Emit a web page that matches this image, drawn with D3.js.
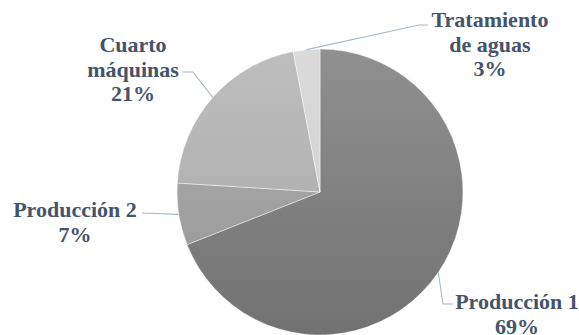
<!DOCTYPE html>
<html>
<head>
<meta charset="utf-8">
<script src="https://cdn.jsdelivr.net/npm/d3@7"></script>
<style>
  html, body { margin: 0; padding: 0; background: #ffffff; }
  svg { display: block; }
  .lbl { font-family: "Liberation Serif", "Times New Roman", "DejaVu Serif", serif; font-weight: bold; font-size: 22px; fill: #44546a; }
</style>
</head>
<body>
<svg id="chart" width="579" height="335"></svg>
<script>
// Consumption share by area (%)
const categories = ["Producción 1", "Producción 2", "Cuarto máquinas", "Tratamiento de aguas"];
const values = [69, 7, 21, 3];
// Label lines as drawn (name split over lines, then the percentage)
const labelLines = [["Producción 1"], ["Producción 2"], ["Cuarto", "máquinas"], ["Tratamiento", "de aguas"]];

// Slice fills: gradient stops top -> bottom
const fillTop = ["#909090", "#b2b2b2", "#bebebe", "#dadada"];
const fillBottom = ["#727272", "#939393", "#a6a6a6", "#cdcdcd"];

// Label placement: text centre x, first baseline y, and the leader elbow
const labelLayout = [
  { x: 517, y: 309, elbow: [[443, 304], [453, 304]] },
  { x: 75,  y: 217, elbow: [[142, 213]] },
  { x: 133, y: 52,  elbow: [[193, 72], [182, 72]] },
  { x: 490, y: 27,  elbow: [[419, 25], [428, 25]] }
];

const width = 579, height = 335;
const cx = 320, cy = 192, r = 143;
const svg = d3.select("#chart");

const defs = svg.append("defs");
categories.forEach((c, i) => {
  const g = defs.append("linearGradient")
    .attr("id", "grad" + i)
    .attr("gradientUnits", "userSpaceOnUse")
    .attr("x1", 0).attr("y1", -r)
    .attr("x2", 0).attr("y2", r);
  g.append("stop").attr("offset", "0%").attr("stop-color", fillTop[i]);
  g.append("stop").attr("offset", "100%").attr("stop-color", fillBottom[i]);
});

const pie = d3.pie().sort(null).value(d => d)(values);
const arc = d3.arc().innerRadius(0).outerRadius(r);

const g = svg.append("g").attr("transform", `translate(${cx},${cy})`);
g.selectAll("path.slice")
  .data(pie)
  .join("path")
  .attr("class", "slice")
  .attr("d", arc)
  .attr("fill", (d, i) => `url(#grad${i})`)
  .attr("stroke", "#ffffff")
  .attr("stroke-opacity", 0.55)
  .attr("stroke-width", 0.8);

// Leader lines from each slice's outer edge midpoint to its label
const line = d3.line();
pie.forEach((d, i) => {
  const mid = (d.startAngle + d.endAngle) / 2;
  const edge = [cx + r * Math.sin(mid), cy - r * Math.cos(mid)];
  const pts = [edge].concat(labelLayout[i].elbow);
  svg.append("path")
    .attr("d", line(pts))
    .attr("fill", "none")
    .attr("stroke", "#a9b8ca")
    .attr("stroke-width", 1.1);
});

// Labels
const lineH = 24.5;
pie.forEach((d, i) => {
  const L = labelLayout[i];
  const lines = labelLines[i].concat([d.data + "%"]);
  const t = svg.append("text")
    .attr("class", "lbl")
    .attr("x", L.x).attr("y", L.y)
    .attr("text-anchor", "middle");
  lines.forEach((s, k) => {
    t.append("tspan").attr("x", L.x).attr("y", L.y + k * lineH).text(s);
  });
});
</script>
</body>
</html>
